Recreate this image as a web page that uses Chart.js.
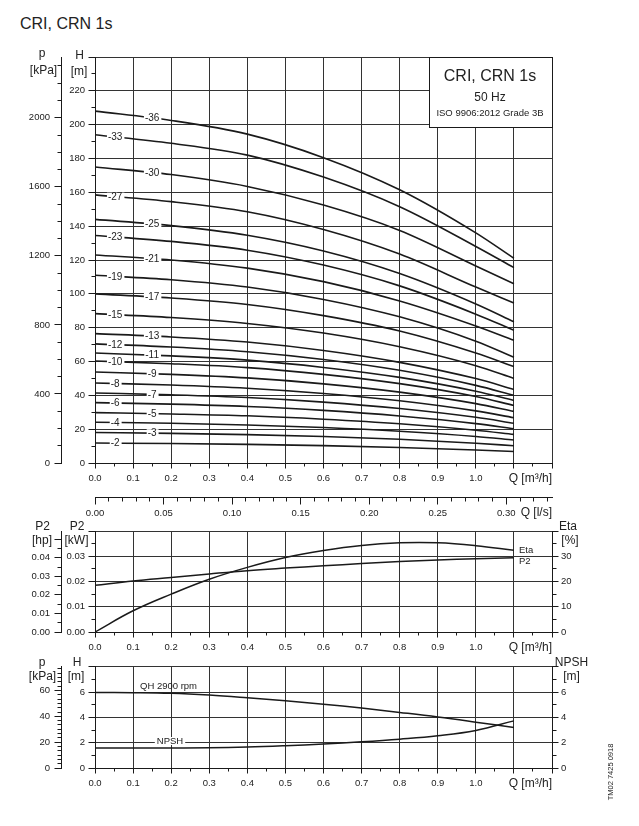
<!DOCTYPE html>
<html>
<head>
<meta charset="utf-8">
<title>CRI, CRN 1s</title>
<script src="https://cdn.jsdelivr.net/npm/chart.js@4.4.1/dist/chart.umd.min.js"></script>
<style>
  body { margin: 0; width: 639px; height: 826px; position: relative; overflow: hidden;
         background: #fff; font-family: 'Liberation Sans', Arial, sans-serif; color: #222; }
  canvas { position: absolute; left: 0; }
  #title { position: absolute; left: 20px; top: 15px; font-size: 16px; line-height: 18px; }
  #code  { position: absolute; left: 581px; top: 767px; width: 60px; height: 10px; line-height: 10px;
           font-size: 7.5px; text-align: center; transform: rotate(-90deg); }
</style>
</head>
<body>
<div id="title">CRI, CRN 1s</div>
<canvas id="head" width="639" height="485" style="top:40px"></canvas>
<canvas id="power" width="639" height="150" style="top:510px"></canvas>
<canvas id="npsh" width="639" height="150" style="top:650px"></canvas>
<div id="code">TM02 7425 0918</div>

<script>
/* ---------- données ---------- */

// Q [m³/h] des points de la courbe QH par nombre d'étages
const qHead = [0, 0.2, 0.4, 0.6, 0.8, 1.0, 1.1];

const head36 = [208, 202.5, 194.4, 180.5, 161.5, 136, 121];
const head33 = [194, 189, 182, 169, 151.5, 128, 115.5];
const head30 = [175, 170.5, 163.5, 152.5, 137.5, 116.5, 106];
const head27 = [158.5, 154.5, 148.5, 138, 123.5, 104, 94.6];
const head25 = [144, 140.3, 134.6, 125.3, 112, 94, 83.5];
const head23 = [134.5, 131, 125.8, 117, 104.7, 88, 78.5];
const head21 = [123, 120, 115.2, 107.2, 95.8, 81, 72.5];
const head19 = [111, 108.3, 104, 96.7, 86.4, 72, 62.5];
const head17 = [100, 97.5, 93.7, 87.1, 78, 65, 57];
const head15 = [88.3, 86, 82.5, 76.8, 68.7, 57.5, 50];
const head13 = [76.5, 74.5, 71.5, 66.5, 59.5, 49.9, 43.5];
const head12 = [70.4, 68.6, 65.8, 61.2, 54.8, 45.9, 40];
const head11 = [65, 63.3, 60.8, 56.5, 50.6, 42.4, 37];
const head10 = [60.3, 58.7, 56.4, 52.4, 46.9, 39.3, 34];
const head9  = [53.8, 52.4, 50.3, 46.8, 41.9, 35.1, 30.5];
const head8  = [47.3, 46.1, 44.2, 41.1, 36.8, 30.8, 26.8];
const head7  = [41.4, 40.3, 38.7, 36, 32.2, 27, 23.5];
const head6  = [35.7, 34.8, 33.4, 31.1, 27.8, 23.3, 20.2];
const head5  = [29.8, 29, 27.9, 25.9, 23.2, 19.4, 16.9];
const head4  = [24.1, 23.5, 22.5, 21, 18.8, 15.7, 13.6];
const head3  = [18, 17.5, 16.8, 15.7, 14, 11.7, 10.2];
const head2  = [11.8, 11.5, 11, 10.3, 9.2, 7.7, 6.8];

const stages = [36, 33, 30, 27, 25, 23, 21, 19, 17, 15, 13, 12, 11, 10, 9, 8, 7, 6, 5, 4, 3, 2];
const heads  = [head36, head33, head30, head27, head25, head23, head21, head19, head17, head15,
                head13, head12, head11, head10, head9, head8, head7, head6, head5, head4, head3, head2];
// étiquettes posées à gauche (Q 0.05) ; les autres à Q 0.15
const stagesLeftLabel = [33, 27, 23, 19, 15, 12, 10, 8, 6, 4, 2];

// P2 / Eta / NPSH
const qCurve  = [0, 0.1, 0.2, 0.3, 0.4, 0.5, 0.6, 0.7, 0.8, 0.9, 1.0, 1.1];
const p2kW    = [0.0185, 0.0202, 0.0216, 0.023, 0.0243, 0.0253, 0.0262, 0.0271, 0.0279, 0.0285, 0.029, 0.0294];
const etaPct  = [0, 8.4, 15, 20.9, 25.6, 29.5, 32.3, 34.3, 35.3, 35.3, 34.2, 32.4];
const qh2900  = [5.96, 5.95, 5.9, 5.76, 5.55, 5.31, 5.04, 4.73, 4.39, 4.03, 3.62, 3.19];
const npshM   = [1.58, 1.58, 1.58, 1.59, 1.65, 1.76, 1.9, 2.07, 2.28, 2.55, 2.97, 3.72];

/* ---------- style ---------- */
const INK  = '#1a1a1a';
const GRID = '#333';
const TXT  = '#222';
const FONT = "'Liberation Sans', Arial, sans-serif";

Chart.defaults.font.family = FONT;
Chart.defaults.font.size = 9.5;
Chart.defaults.color = TXT;

const KPA_PER_M = 9.8;
const HP_PER_KW = 1.36;

const range = (n, step) => Array.from({ length: n }, (_, i) => +(i * step).toFixed(4));
const mult  = (v, step) => Math.abs(v / step - Math.round(v / step)) < 1e-6;
const setTicks = vals => s => { s.ticks = vals.map(v => ({ value: v })); };

function pts(xs, ys) { return xs.map((x, i) => ({ x, y: ys[i] })); }
function interp(xs, ys, x) {
  for (let i = 1; i < xs.length; i++) {
    if (x <= xs[i]) {
      const t = (x - xs[i - 1]) / (xs[i] - xs[i - 1]);
      return ys[i - 1] + t * (ys[i] - ys[i - 1]);
    }
  }
  return ys[ys.length - 1];
}

// Axe Q commun aux trois graphiques
function qAxis(height) {
  return {
    type: 'linear', position: 'bottom', min: 0, max: 1.2, weight: 0,
    afterBuildTicks: setTicks(range(25, 0.05)),
    afterFit: s => { s.height = height; },
    grid:   { color: c => mult(c.tick.value, 0.1) ? GRID : 'rgba(0,0,0,0)', drawTicks: false },
    border: { color: INK },
    ticks:  { autoSkip: false, maxRotation: 0, padding: 10,
              callback: v => (mult(v, 0.1) && v < 1.05) ? v.toFixed(1) : '' },
  };
}

// Axe vertical générique
function vAxis({ pos, max, ticks, major, label, fmt, width, weight, grid, pad }) {
  return {
    type: 'linear', position: pos, min: 0, max, weight,
    afterBuildTicks: setTicks(ticks),
    afterFit: s => { s.width = width; },
    grid: grid
      ? { color: c => major(c.tick.value) ? GRID : 'rgba(0,0,0,0)', drawTicks: false }
      : { drawOnChartArea: false, drawTicks: false },
    border: { color: INK },
    ticks: { autoSkip: false, padding: pad,
             callback: v => (major(v) && label(v)) ? fmt(v) : '' },
  };
}

// Petites graduations (longues = majeures)
function tickMarks(list) {
  return {
    id: 'tickMarks',
    afterDraw(chart) {
      const ctx = chart.ctx;
      ctx.save();
      ctx.strokeStyle = INK;
      ctx.lineWidth = 1;
      ctx.beginPath();
      list.forEach(({ id, side, major, long, short }) => {
        const s = chart.scales[id];
        s.ticks.forEach(t => {
          const len = major(t.value) ? long : short;
          const p = Math.round(s.getPixelForValue(t.value) - 0.5) + 0.5;
          if (side === 'left') {
            const x0 = Math.round(s.right - 0.5) + 0.5;
            ctx.moveTo(x0, p); ctx.lineTo(x0 - len, p);
          } else if (side === 'right') {
            const x0 = Math.round(s.left - 0.5) + 0.5;
            ctx.moveTo(x0, p); ctx.lineTo(x0 + len, p);
          } else {
            const y0 = Math.round(s.top - 0.5) + 0.5;
            ctx.moveTo(p, y0); ctx.lineTo(p, y0 + len);
          }
        });
      });
      ctx.stroke();
      ctx.restore();
    },
  };
}

// Textes libres (titres d'axes, étiquettes)
function texts(items) {
  return {
    id: 'texts',
    afterDraw(chart) {
      const ctx = chart.ctx;
      ctx.save();
      ctx.textBaseline = 'middle';
      items.forEach(it => {
        ctx.font = `${it.size || 12}px ${FONT}`;
        ctx.textAlign = it.align || 'center';
        if (it.bg) {
          const w = ctx.measureText(it.t).width;
          const x0 = it.align === 'left' ? it.x : it.align === 'right' ? it.x - w : it.x - w / 2;
          ctx.fillStyle = '#fff';
          ctx.fillRect(x0 - 2, it.y - 4, w + 4, 8);
        }
        ctx.fillStyle = TXT;
        ctx.fillText(it.t, it.x, it.y);
      });
      ctx.restore();
    },
  };
}

const baseOpts = {
  responsive: false, animation: false, devicePixelRatio: 1,
  plugins: { legend: { display: false }, tooltip: { enabled: false } },
  elements: { point: { radius: 0 }, line: { borderColor: INK, borderWidth: 1.6, cubicInterpolationMode: 'monotone' } },
};
const smooth = { cubicInterpolationMode: 'default', tension: 0.4, borderColor: INK, borderWidth: 1.5 };

/* ---------- 1. Hauteur H ---------- */
const headSets = heads.map(h => ({ data: pts(qHead, h), borderColor: INK, fill: false }));

const stageLabels = {
  id: 'stageLabels',
  afterDatasetsDraw(chart) {
    const { ctx, scales: { x, y } } = chart;
    ctx.save();
    ctx.font = `10px ${FONT}`;
    ctx.textAlign = 'center';
    ctx.textBaseline = 'middle';
    stages.forEach((n, i) => {
      const q = stagesLeftLabel.includes(n) ? 0.053 : 0.15;
      const px = x.getPixelForValue(q);
      const py = y.getPixelForValue(interp(qHead, heads[i], q));
      const txt = '-' + n;
      const w = ctx.measureText(txt).width;
      ctx.fillStyle = '#fff';
      ctx.fillRect(px - w / 2 - 1, py - 4, w + 3, 8);
      ctx.fillStyle = TXT;
      ctx.fillText(txt, px, py + 0.5);
    });
    ctx.restore();
  },
};

const infoBox = {
  id: 'infoBox',
  afterDraw(chart) {
    const ctx = chart.ctx;
    const top = chart.chartArea.top;     // page y 57
    ctx.save();
    ctx.fillStyle = '#fff';
    ctx.fillRect(430, top, 122, 70);
    ctx.strokeStyle = INK;
    ctx.lineWidth = 1;
    ctx.strokeRect(429.5, top + 0.5, 123, 70);
    ctx.fillStyle = TXT;
    ctx.textAlign = 'center';
    ctx.textBaseline = 'middle';
    ctx.font = `16px ${FONT}`;
    ctx.fillText('CRI, CRN 1s', 490, top + 20);
    ctx.font = `12px ${FONT}`;
    ctx.fillText('50 Hz', 490, top + 40.5);
    ctx.font = `9.5px ${FONT}`;
    ctx.fillText('ISO 9906:2012 Grade 3B', 490, top + 56);
    ctx.restore();
  },
};

new Chart(document.getElementById('head'), {
  type: 'line',
  data: { datasets: headSets },
  options: {
    ...baseOpts,
    layout: { padding: { top: 17, right: 87, left: 0, bottom: 0 } },
    scales: {
      x: qAxis(34),
      x2: {
        type: 'linear', position: 'bottom', min: 0, max: 1.2 / 3.6, weight: 1,
        afterBuildTicks: setTicks(range(34, 0.01)),
        afterFit: s => { s.height = 28; },
        grid: { drawOnChartArea: false, drawTicks: false },
        border: { color: INK },
        ticks: { autoSkip: false, maxRotation: 0, padding: 11,
                 callback: v => (mult(v, 0.05) && v < 0.32) ? v.toFixed(2) : '' },
      },
      y: vAxis({ pos: 'left', max: 240, ticks: range(25, 10), major: v => mult(v, 20),
                 label: v => v <= 220, fmt: v => String(v), width: 34, weight: 0, grid: true, pad: 10 }),
      yp: vAxis({ pos: 'left', max: 240 * KPA_PER_M, ticks: range(24, 100), major: v => mult(v, 400),
                  label: () => true, fmt: v => String(v), width: 61, weight: 1, grid: false, pad: 11 }),
    },
  },
  plugins: [
    stageLabels, infoBox,
    tickMarks([
      { id: 'x',  side: 'bottom', major: v => mult(v, 0.1), long: 5, short: 3 },
      { id: 'x2', side: 'bottom', major: v => mult(v, 0.05), long: 7, short: 4 },
      { id: 'y',  side: 'left', major: v => mult(v, 20), long: 7, short: 4 },
      { id: 'yp', side: 'left', major: v => mult(v, 400), long: 7, short: 4 },
    ]),
    texts([
      { t: 'p', x: 42, y: 14 }, { t: '[kPa]', x: 43.5, y: 31 },
      { t: 'H', x: 79.5, y: 16 }, { t: '[m]', x: 79, y: 32 },
      { t: 'Q [m³/h]', x: 552, y: 439, align: 'right' },
      { t: 'Q [l/s]', x: 552, y: 473, align: 'right' },
    ]),
  ],
});

/* ---------- 2. P2 / Eta ---------- */
new Chart(document.getElementById('power'), {
  type: 'line',
  data: {
    datasets: [
      { data: pts(qCurve, p2kW), yAxisID: 'y', ...smooth },
      { data: pts(qCurve, etaPct), yAxisID: 'yr', ...smooth },
    ],
  },
  options: {
    ...baseOpts,
    layout: { padding: { top: 21, right: 0, left: 0, bottom: 0 } },
    scales: {
      x: qAxis(28),
      y: vAxis({ pos: 'left', max: 0.04, ticks: range(9, 0.005), major: v => mult(v, 0.01),
                 label: v => v < 0.035, fmt: v => v.toFixed(2), width: 34, weight: 0, grid: true, pad: 10 }),
      yhp: vAxis({ pos: 'left', max: 0.04 * HP_PER_KW, ticks: range(11, 0.005), major: v => mult(v, 0.01),
                   label: v => v < 0.045, fmt: v => v.toFixed(2), width: 61, weight: 1, grid: false, pad: 11 }),
      yr: vAxis({ pos: 'right', max: 40, ticks: range(9, 5), major: v => mult(v, 10),
                  label: v => v < 35, fmt: v => String(v), width: 87, weight: 0, grid: false, pad: 9 }),
    },
  },
  plugins: [
    tickMarks([
      { id: 'x',   side: 'bottom', major: v => mult(v, 0.1), long: 5, short: 3 },
      { id: 'y',   side: 'left', major: v => mult(v, 0.01), long: 7, short: 4 },
      { id: 'yhp', side: 'left', major: v => mult(v, 0.01), long: 7, short: 4 },
      { id: 'yr',  side: 'right', major: v => mult(v, 10), long: 6, short: 4 },
    ]),
    texts([
      { t: 'P2', x: 42.5, y: 17 }, { t: '[hp]', x: 42, y: 31 },
      { t: 'P2', x: 77, y: 17 }, { t: '[kW]', x: 76.5, y: 31 },
      { t: 'Eta', x: 568, y: 17 }, { t: '[%]', x: 570, y: 31 },
      { t: 'Eta', x: 519, y: 40, align: 'left', size: 9.5 },
      { t: 'P2', x: 519, y: 51, align: 'left', size: 9.5 },
      { t: 'Q [m³/h]', x: 552, y: 138, align: 'right' },
    ]),
  ],
});

/* ---------- 3. QH 2900 rpm / NPSH ---------- */
new Chart(document.getElementById('npsh'), {
  type: 'line',
  data: {
    datasets: [
      { data: pts(qCurve, qh2900), yAxisID: 'y', ...smooth },
      { data: pts(qCurve, npshM), yAxisID: 'yr', ...smooth },
    ],
  },
  options: {
    ...baseOpts,
    layout: { padding: { top: 16, right: 0, left: 0, bottom: 0 } },
    scales: {
      x: qAxis(32),
      y: vAxis({ pos: 'left', max: 8, ticks: range(9, 1), major: v => mult(v, 2),
                 label: v => v <= 6, fmt: v => String(v), width: 34, weight: 0, grid: true, pad: 10 }),
      yp: vAxis({ pos: 'left', max: 8 * KPA_PER_M, ticks: range(24, 20 / 6), major: v => mult(v, 20),
                  label: () => true, fmt: v => String(Math.round(v)), width: 61, weight: 1, grid: false, pad: 11 }),
      yr: vAxis({ pos: 'right', max: 8, ticks: range(9, 1), major: v => mult(v, 2),
                  label: v => v <= 6, fmt: v => String(v), width: 87, weight: 0, grid: false, pad: 9 }),
    },
  },
  plugins: [
    tickMarks([
      { id: 'x',  side: 'bottom', major: v => mult(v, 0.1), long: 5, short: 3 },
      { id: 'y',  side: 'left', major: v => mult(v, 2), long: 7, short: 4 },
      { id: 'yp', side: 'left', major: v => mult(v, 20), long: 7, short: 4 },
      { id: 'yr', side: 'right', major: v => mult(v, 2), long: 6, short: 4 },
    ]),
    texts([
      { t: 'p', x: 42, y: 13 }, { t: '[kPa]', x: 42.5, y: 27 },
      { t: 'H', x: 77, y: 13 }, { t: '[m]', x: 76, y: 27 },
      { t: 'NPSH', x: 571.5, y: 13 }, { t: '[m]', x: 571.5, y: 27 },
      { t: 'QH 2900 rpm', x: 140, y: 36, align: 'left', size: 9.5 },
      { t: 'NPSH', x: 170, y: 91, size: 9.5, bg: true },
      { t: 'Q [m³/h]', x: 552, y: 134, align: 'right' },
    ]),
  ],
});
</script>
</body>
</html>
